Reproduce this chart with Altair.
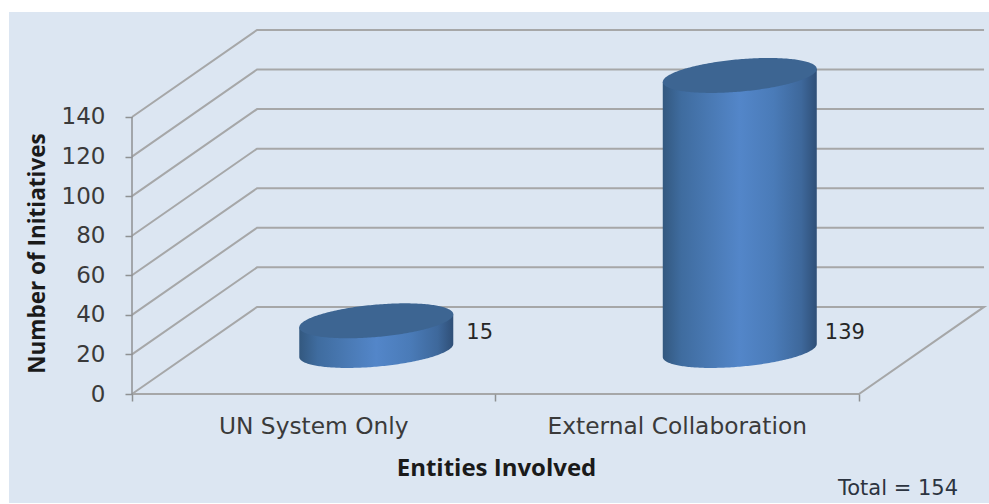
import numpy as np
import pandas as pd
import altair as alt

# Chart values
categories = ["UN System Only", "External Collaboration"]
values = [15, 139]
value_labels = ["15", "139"]
y_ticks = [0, 20, 40, 60, 80, 100, 120, 140]
x_ticks = [0, 1, 2]

# Projection of the 3D box, in axis units
DEPTH_X = 0.344
DEPTH_Y = 44.0
X_MAX = 2.3549
Y_MAX = 184.98
PLOT_W = 856
PLOT_H = 366
PX_X = PLOT_W / X_MAX
PX_Y = PLOT_H / Y_MAX

# Cylinder shape, in pixels
RADIUS_PX = 77.0
TILT = 0.085
MINOR_PX = 16.2
LABEL_LEVEL = 31.0
LABEL_GAPS_PX = [13, 8]

GRID = "#a6a7a8"
AXIS = "#8f9193"
TEXT = "#3a3a3a"
FONT = "DejaVu Sans"
BOLD_FONT = "Open Sans"

x_enc = alt.X(
    "x:Q",
    scale=alt.Scale(domain=[0, X_MAX], nice=False, zero=False),
    axis=alt.Axis(
        values=x_ticks, labels=False, domain=False, grid=False,
        tickSize=7, tickColor=AXIS, tickWidth=1.5,
        title="Entities Involved", titleFont=BOLD_FONT, titleFontSize=24,
        titleFontWeight="bold", titleColor="#1a1a1a",
        titleX=364, titleY=74, titleAlign="center", titleBaseline="middle",
        zindex=1,
    ),
)
y_enc = alt.Y(
    "y:Q",
    scale=alt.Scale(domain=[0, Y_MAX], nice=False, zero=False),
    axis=alt.Axis(
        values=y_ticks, domain=False, grid=False,
        tickSize=7, tickColor=AXIS, tickWidth=1.5,
        labelFont=FONT, labelFontSize=23, labelColor=TEXT, labelPadding=20,
        title="Number of Initiatives", titleFont=BOLD_FONT, titleFontSize=22.5,
        titleFontWeight="bold", titleColor="#1a1a1a", titleAngle=-90,
        titleX=-95, titleY=225, titleAlign="center", titleBaseline="middle",
        zindex=1,
    ),
)

# Panel behind the whole chart
panel = alt.Chart(pd.DataFrame({"a": [0]})).mark_rect(color="#dce6f2").encode(
    x=alt.value(-123), x2=alt.value(PLOT_W + 1),
    y=alt.value(-16), y2=alt.value(PLOT_H + 109),
)

# Side wall and back wall lines at each tick level
grid_rows = []
for v in y_ticks:
    if v == 0:
        continue
    grid_rows += [
        {"x": 0, "y": v, "level": v, "step": 0},
        {"x": DEPTH_X, "y": v + DEPTH_Y, "level": v, "step": 1},
        {"x": x_ticks[-1] + DEPTH_X, "y": v + DEPTH_Y, "level": v, "step": 2},
    ]
grid = alt.Chart(pd.DataFrame(grid_rows)).mark_line(color=GRID, strokeWidth=2).encode(
    x=x_enc, y=y_enc, detail="level:N", order="step:Q"
)

# Outline of the floor
floor_rows = [
    {"x": 0, "y": 0, "step": 0},
    {"x": x_ticks[-1], "y": 0, "step": 1},
    {"x": x_ticks[-1] + DEPTH_X, "y": DEPTH_Y, "step": 2},
    {"x": DEPTH_X, "y": DEPTH_Y, "step": 3},
    {"x": 0, "y": 0, "step": 4},
]
floor = alt.Chart(pd.DataFrame(floor_rows)).mark_line(color=GRID, strokeWidth=2).encode(
    x=x_enc, y=y_enc, order="step:Q"
)

# Vertical axis line from 0 to the top tick
axis_line = alt.Chart(pd.DataFrame({"x": [0], "y": [y_ticks[0]], "y2": [y_ticks[-1]]})).mark_rule(
    color=AXIS, strokeWidth=1.5
).encode(x=x_enc, y=y_enc, y2="y2:Q")


def cylinder(index, value):
    """Side and cap outlines for one column, from its category slot and value."""
    cx = index + 0.5 + DEPTH_X / 2
    base = DEPTH_Y / 2
    t = np.linspace(0, np.pi, 121)
    dx_px = -RADIUS_PX * np.cos(t)
    xs = cx + dx_px / PX_X
    mid = (TILT * dx_px) / PX_Y
    half = MINOR_PX * np.sin(t) / PX_Y
    side = pd.DataFrame({"x": xs, "y": base + value + mid, "y2": base + mid - half})
    cap = pd.DataFrame({"x": xs, "y": base + value + mid + half, "y2": base + value + mid - half})
    return side, cap


body_gradient = alt.Gradient(
    gradient="linear", x1=0, x2=1, y1=0, y2=0,
    stops=[
        alt.GradientStop(color="#33587f", offset=0),
        alt.GradientStop(color="#3f6c9f", offset=0.12),
        alt.GradientStop(color="#4a7ab5", offset=0.32),
        alt.GradientStop(color="#5386c9", offset=0.5),
        alt.GradientStop(color="#4a7bb8", offset=0.72),
        alt.GradientStop(color="#3e689b", offset=0.9),
        alt.GradientStop(color="#2f4f77", offset=1),
    ],
)

column_layers = []
label_rows = []
for i, (val, lab, gap) in enumerate(zip(values, value_labels, LABEL_GAPS_PX)):
    side, cap = cylinder(i, val)
    column_layers.append(
        alt.Chart(side).mark_area(color=body_gradient, line=False).encode(x=x_enc, y=y_enc, y2="y2:Q")
    )
    column_layers.append(
        alt.Chart(cap).mark_area(color="#3d6592", line=False).encode(x=x_enc, y=y_enc, y2="y2:Q")
    )
    label_rows.append({
        "x": i + 0.5 + DEPTH_X / 2 + (RADIUS_PX + gap) / PX_X, "y": LABEL_LEVEL, "label": lab,
    })

value_text = alt.Chart(pd.DataFrame(label_rows)).mark_text(
    align="left", baseline="middle", font=FONT, fontSize=21, color="#262626"
).encode(x=x_enc, y=y_enc, text="label:N")

# Category names under the floor
cat_text = alt.Chart(pd.DataFrame({
    "x": [i + 0.5 for i in range(len(categories))],
    "y": [0, 0],
    "label": categories,
})).mark_text(
    align="center", baseline="middle", dy=33, font=FONT, fontSize=23.3, color=TEXT
).encode(x=x_enc, y=y_enc, text="label:N")

# Total note in the lower right corner
total_text = alt.Chart(pd.DataFrame({"label": ["Total = 154"]})).mark_text(
    align="center", baseline="middle", font=FONT, fontSize=21, color="#2c3440"
).encode(x=alt.value(766), y=alt.value(461), text="label:N")

chart = alt.layer(
    panel, grid, floor, axis_line, *column_layers, value_text, cat_text, total_text
).properties(
    width=PLOT_W,
    height=PLOT_H,
    padding={"left": 132, "top": 28, "right": 1, "bottom": 110},
    autosize=alt.AutoSizeParams(type="none"),
    background="white",
).configure_view(stroke=None)

chart.save("out.html", embed_options={"renderer": "svg", "actions": False})
